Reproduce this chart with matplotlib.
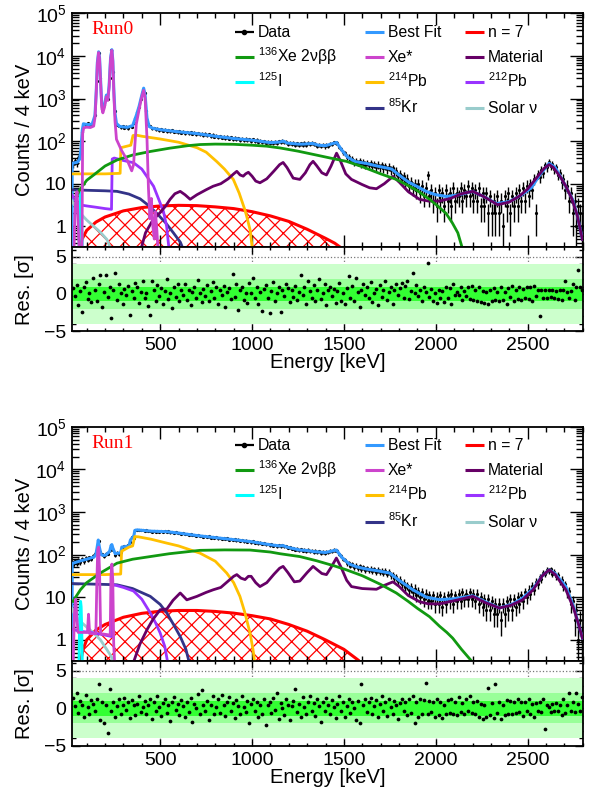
import numpy as np
import matplotlib
matplotlib.use("Agg")
import matplotlib.pyplot as plt
from matplotlib.ticker import FixedLocator, LogLocator, MultipleLocator, NullFormatter, FuncFormatter

plt.rcParams["font.family"] = ["Liberation Sans", "DejaVu Sans"]
plt.rcParams["mathtext.fontset"] = "custom"
plt.rcParams["mathtext.rm"] = "Liberation Sans"
plt.rcParams["hatch.color"] = "red"
plt.rcParams["hatch.linewidth"] = 0.9

# ---------------- Run0 ----------------
# counts per bin, bins every 10 keV starting at 25 keV
run0_data = [
    29, 34, 30, 41, 52, 160, 255, 238, 262, 236, 255, 290, 420, 2600, 11800, 3000, 560, 720, 1150, 980,
    3100, 13500, 4200, 500, 240, 230, 210, 228, 205, 220, 200, 225, 218, 270, 350, 470, 640, 980, 1500, 1380,
    520, 250, 225, 198, 205, 188, 196, 180, 190, 176, 185, 172, 181, 168, 178, 165, 172, 160, 170, 158,
    167, 155, 164, 152, 160, 150, 158, 146, 155, 144, 150, 139, 147, 136, 143, 131, 139, 127, 134, 124,
    131, 121, 128, 118, 125, 115, 122, 112, 119, 110, 117, 108, 114, 106, 113, 104, 110, 102, 109, 99,
    106, 97, 103, 94, 99, 91, 96, 89, 95, 90, 97, 91, 98, 94, 103, 95, 96, 86, 91, 84,
    89, 83, 88, 82, 88, 82, 89, 83, 90, 84, 91, 84, 87, 78, 83, 76, 81, 75, 82, 78,
    87, 84, 93, 89, 91, 73, 66, 54, 52, 42, 43, 36, 38, 32, 35, 31, 34, 29, 32, 28,
    31, 27, 30, 26, 29, 25, 28, 24, 27, 23, 26, 22, 25, 21, 23, 19, 20, 15, 17, 13,
    15, 11, 13, 9, 11, 8, 10, 7, 10, 6, 9, 5, 8, 16, 5, 7, 4, 6, 3, 7,
    4, 6, 3, 7, 4, 6, 3, 8, 4, 6, 5, 8, 4, 7, 5, 9, 5, 8, 4, 7,
    4, 8, 3, 6, 3, 6, 2, 5, 2, 4, 2, 5, 2, 4, 1, 5, 3, 6, 2, 5,
    3, 6, 3, 7, 4, 8, 4, 9, 5, 10, 7, 13, 2, 17, 14, 21, 18, 27, 24, 33,
    26, 29, 22, 24, 16, 18, 11, 13, 7, 9, 4, 6, 2, 4, 1, 3, 2, 1,
]
run0_res = [
    0.8, -0.3, 1.2, -1.5, 0.4, -2.4, 0.9, 1.6, -0.7, 0.2, -1.1, 2.1, 0.5, -0.9, 1.4, 2.6, -1.8, 0.3, 2.5, -0.4,
    1.0, -3.3, 0.6, 2.9, -0.8, 1.3, 0.1, -1.4, 0.7, -0.2, 1.1, -2.9, 0.4, -0.6, 1.5, 0.9, -1.2, 0.3, 1.8, -0.5,
    0.2, -1.6, -2.8, 1.7, 0.6, -0.9, 1.2, -0.3, 0.8, -1.3, 0.4, 2.0, -0.7, 0.1, -1.9, 0.9, -0.4, 1.3, -1.0, 0.5,
    -0.2, 1.4, -0.8, 0.6, -1.5, 0.3, 1.0, -0.6, 1.9, 0.2, -1.1, 0.7, -0.3, 1.2, -0.9, 0.4, 1.6, -0.5, 0.9, -1.3,
    0.6, -0.1, 1.1, -1.7, 0.3, 0.8, -0.7, 2.7, -0.4, 1.3, -2.1, 0.5, 1.0, -0.8, 0.2, -1.2, 1.5, 0.1, 2.1, -0.6,
    0.9, -1.4, 0.3, -2.3, 0.7, 1.2, -0.5, -2.5, 0.4, 1.6, -0.9, 0.2, 1.0, -2.4, 0.6, -0.3, 1.4, 0.8, -1.1, 0.5,
    -0.4, 1.1, -0.8, 0.3, 2.6, -0.2, 0.9, -1.3, 1.7, 0.4, -0.6, 1.2, -1.0, 0.5, 2.0, -0.7, 0.2, 1.3, -1.5, 0.6,
    1.0, -0.3, 0.7, -1.2, 0.4, 1.5, -0.9, 0.1, -1.4, 0.8, 2.4, -0.5, 1.1, -1.0, 2.1, 0.3, -1.8, 0.6, 1.4, -0.2,
    0.9, -0.6, 1.6, -1.1, 0.2, 0.7, -1.5, 1.2, -0.4, 0.5, 1.8, -0.8, 0.3, 1.0, -1.3, 0.6, 1.3, -0.2, 0.8, 1.5,
    -0.5, 1.1, 1.7, -0.7, 0.4, 2.9, 0.2, 1.2, -0.3, 0.6, -1.0, 0.9, 0.3, 4.2, -0.4, 0.7, -0.9, 0.2, -1.2, 0.5,
    -0.6, 0.4, -1.1, 1.0, -0.5, 0.8, -1.3, 1.3, -0.2, 0.3, -0.1, 1.0, -0.8, 0.4, -0.3, 1.0, -0.7, 1.1, -0.8, 0.6,
    -1.0, 0.9, -1.1, 0.4, -1.2, 0.3, -1.3, 0.6, -0.9, 0.8, -0.8, 0.3, -1.0, 0.9, -0.8, 0.3, -1.4, 0.8, -0.4, 1.1,
    -0.9, 0.6, -0.7, 0.9, -0.8, 0.7, -0.6, 0.9, -0.7, 1.0, -0.9, 1.1, -0.3, 0.6, -3.0, 0.5, -0.6, 0.6, -0.5, 0.6,
    -0.4, 0.6, -0.5, 0.4, -0.7, 0.5, -0.8, 0.6, 1.8, 0.3, -0.5, 0.4, 1.4, -0.8, 1.0, 3.3, 0.9, 0.5,
]
# model curves: (energy keV, counts / 4 keV)
run0_fit = [(20, 0.1), (21, 30), (50, 32), (62, 38), (68, 60), (76, 180), (82, 255), (90, 250), (110, 245),
            (130, 250), (145, 400), (152, 1500), (158, 7000), (165, 12500), (170, 9000), (176, 2500), (182, 700),
            (188, 560), (197, 720), (207, 1200), (215, 1000), (222, 2000), (230, 9000), (237, 14000), (242, 8000),
            (248, 1500), (254, 450), (262, 260), (280, 220), (320, 210), (350, 230), (370, 400), (385, 650),
            (400, 1200), (410, 1750), (418, 1200), (428, 350), (440, 220), (460, 200), (500, 185), (600, 165),
            (700, 150), (800, 130), (900, 115), (1000, 105), (1100, 92), (1150, 95), (1170, 100), (1190, 90),
            (1250, 85), (1280, 85), (1330, 88), (1360, 80), (1400, 78), (1430, 85), (1460, 93), (1490, 60),
            (1520, 42), (1560, 33), (1620, 30), (1680, 26), (1720, 24), (1760, 22), (1800, 16), (1850, 11),
            (1900, 8.5), (1950, 6.5), (2000, 5.5), (2060, 5.0), (2120, 5.4), (2200, 6.6), (2260, 5.0),
            (2330, 3.4), (2400, 3.8), (2460, 5.2), (2520, 8), (2570, 17), (2617, 30), (2650, 24), (2700, 10),
            (2744, 4.3), (2770, 1.8), (2798, 0.5)]
run0_n7 = [(60, 0.2), (65, 0.33), (75, 0.5), (100, 0.8), (150, 1.25), (200, 1.65), (300, 2.3), (400, 2.75),
           (500, 3.0), (600, 3.1), (700, 3.05), (800, 2.85), (900, 2.6), (1000, 2.2), (1100, 1.75), (1200, 1.3),
           (1300, 0.85), (1400, 0.52), (1450, 0.4), (1490, 0.3), (1510, 0.25)]
run0_xe136 = [(42, 4.5), (60, 7), (100, 12), (138, 16), (200, 26), (265, 36), (350, 47), (446, 57), (550, 68),
              (650, 78), (717, 83), (800, 85), (900, 84), (1000, 80), (1079, 76), (1152, 69), (1250, 58),
              (1350, 47), (1450, 38), (1513, 33.5), (1600, 25), (1700, 17), (1785, 12.6), (1850, 9.0),
              (1900, 6.8), (1966, 4.3), (2010, 3.0), (2056, 2.0), (2090, 1.2), (2120, 0.7), (2145, 0.3)]
run0_xestar = [(30, 0.2), (36, 2), (42, 5.5), (48, 6.5), (54, 1), (60, 0.2), (74, 0.2), (78, 150), (84, 205),
               (100, 212), (120, 208), (138, 225), (146, 380), (152, 1400), (158, 6500), (165, 12000),
               (170, 8500), (176, 2200), (182, 600), (188, 460), (197, 620), (207, 1100), (215, 900),
               (222, 1800), (230, 8500), (237, 13500), (242, 7500), (248, 1200), (254, 300), (262, 110),
               (290, 60), (320, 36), (345, 20), (355, 28), (370, 250), (385, 550), (400, 1100), (410, 1550),
               (418, 1000), (428, 120), (436, 8), (444, 1.5), (452, 4.5), (460, 1.0), (468, 0.5), (474, 2.2),
               (482, 0.8), (490, 0.2)]
run0_material = [(385, 0.2), (420, 0.7), (460, 1.4), (500, 2.1), (530, 3.0), (554, 4.3), (580, 5.8), (609, 6.6),
                 (635, 5.5), (663, 4.3), (700, 5.5), (750, 7.2), (788, 8.7), (830, 10), (870, 13), (900, 17),
                 (917, 19.5), (935, 16), (952, 15), (965, 17), (980, 18.5), (1000, 15), (1020, 11.5),
                 (1043, 10.5), (1080, 13), (1120, 20), (1150, 28), (1169, 31.5), (1190, 24), (1224, 13.5),
                 (1260, 12.6), (1290, 18), (1315, 28), (1332, 33.5), (1350, 27), (1380, 18), (1405, 16),
                 (1430, 26), (1460, 52), (1480, 35), (1510, 17), (1541, 12.6), (1600, 9.5), (1640, 8),
                 (1677, 7.6), (1720, 10), (1767, 14.8), (1800, 11), (1850, 6.5), (1911, 4.3), (1960, 3.9),
                 (2020, 3.9), (2080, 4.5), (2140, 5.8), (2201, 6.6), (2260, 5), (2337, 3.2), (2400, 3.7),
                 (2455, 5.1), (2500, 7.5), (2550, 14), (2590, 23), (2617, 28), (2640, 24), (2680, 14),
                 (2708, 8.7), (2740, 4.5), (2770, 1.8), (2798, 0.49)]
run0_i125 = [(56, 0.1), (61, 1.5), (64, 4.5), (67, 6.0), (70, 4.5), (73, 1.5), (78, 0.1)]
run0_pb214 = [(18, 17), (100, 17), (200, 17), (282, 17.5), (286, 70), (340, 80), (352, 135), (370, 138),
              (400, 130), (500, 112), (600, 94), (700, 70), (750, 55), (808, 33), (850, 22), (898, 12.6),
              (930, 6), (960, 2.5), (971, 1.7), (990, 0.8), (1006, 0.2)]
run0_pb212 = [(18, 5.5), (40, 4), (60, 3.2), (100, 3.0), (150, 2.8), (200, 2.6), (235, 2.5), (239, 38),
              (250, 40), (300, 35), (355, 31), (400, 22), (464, 8.7), (500, 3.5), (518, 2.2), (535, 1.0),
              (552, 0.2)]
run0_kr85 = [(18, 7.2), (100, 7.0), (200, 6.8), (265, 6.6), (330, 5.7), (391, 4.4), (440, 3.0), (482, 2.0),
             (530, 1.2), (572, 0.7), (610, 0.42), (640, 0.2)]
run0_solar = [(18, 4.0), (40, 2.8), (66, 2.0), (100, 1.4), (138, 1.0), (175, 0.72), (210, 0.49), (228, 0.32),
              (235, 0.2)]

# ---------------- Run1 ----------------
run1_data = [
    58, 70, 62, 75, 66, 79, 70, 82, 74, 86, 79, 92, 104, 126, 210, 115, 102, 91, 104, 106,
    126, 165, 130, 100, 112, 103, 115, 148, 160, 152, 165, 195, 255, 252, 380, 372, 386, 368, 382, 364,
    377, 356, 366, 348, 361, 344, 358, 343, 356, 340, 354, 338, 349, 331, 341, 323, 333, 315, 325, 307,
    317, 299, 309, 291, 300, 284, 292, 276, 285, 270, 279, 264, 273, 258, 267, 252, 261, 246, 255, 240,
    250, 236, 245, 231, 239, 226, 234, 221, 229, 216, 224, 211, 219, 206, 214, 201, 209, 196, 204, 190,
    197, 185, 191, 179, 185, 173, 179, 167, 174, 162, 169, 158, 166, 157, 168, 156, 158, 144, 149, 138,
    142, 131, 136, 126, 132, 124, 130, 122, 128, 119, 124, 115, 121, 113, 119, 111, 116, 109, 117, 113,
    123, 119, 129, 124, 124, 101, 95, 78, 75, 63, 64, 55, 59, 51, 55, 48, 53, 46, 50, 44,
    48, 43, 47, 41, 45, 40, 44, 39, 42, 37, 41, 36, 39, 33, 34, 28, 30, 24, 26, 20,
    22, 17, 19, 15, 17, 13, 16, 11, 14, 10, 13, 9, 12, 8, 11, 8, 11, 7, 10, 7,
    11, 6, 10, 7, 11, 8, 12, 7, 11, 8, 12, 8, 13, 9, 12, 9, 13, 9, 12, 8,
    12, 7, 10, 6, 9, 5, 9, 5, 8, 4, 7, 4, 7, 3, 7, 4, 8, 5, 9, 5,
    9, 6, 10, 7, 11, 8, 13, 10, 15, 12, 18, 15, 23, 20, 30, 27, 37, 35, 44, 41,
    45, 36, 40, 31, 34, 24, 26, 18, 20, 13, 14, 7, 8, 3, 5, 1, 3, 1,
]
run1_res = [
    1.4, 0.3, 2.1, -0.6, 1.0, 0.4, -1.2, 1.8, 0.2, -0.8, 1.1, 0.6, -0.4, 1.3, 3.3, -1.5, 0.8, -2.0, 0.5, -3.3,
    2.6, -0.4, 0.9, -1.1, 0.3, 1.2, -0.7, 0.5, 1.4, -0.2, 0.8, -1.3, 1.1, 0.4, -0.9, 0.6, 1.7, -0.5, 0.2, 1.0,
    -0.8, 0.5, 1.3, -1.4, 0.9, -0.3, 1.6, 0.2, -1.0, 0.7, 1.2, -0.6, 0.4, -1.7, 0.8, 1.5, -0.2, 0.6, -0.9, 1.1,
    0.3, -1.2, 0.9, -0.5, 1.4, -1.8, 0.6, 0.1, 1.9, -0.7, 2.4, 0.4, -0.3, 1.0, -1.5, 0.5, 1.7, -0.8, 0.2, 1.3,
    -0.6, 1.8, 0.4, -1.0, 0.9, 1.5, -0.4, 0.7, -1.3, 1.1, 0.3, -0.8, 1.6, 0.2, -0.5, 1.0, -1.9, 0.6, 1.2, -0.3,
    0.8, -1.1, 0.5, -0.7, 1.3, -2.2, 0.4, 0.9, -0.6, 1.4, -0.2, 2.0, -1.4, 0.7, 0.1, -0.9, 1.2, 0.5, -1.6, 0.3,
    1.0, 2.6, -0.5, 0.6, -1.2, 1.5, 0.2, -0.8, 0.9, 1.6, -0.4, 0.7, -1.0, 1.2, 0.3, -1.8, 0.8, -0.3, 1.4, 0.5,
    -0.7, 1.1, 0.2, -1.3, 0.6, 1.7, -0.4, 0.9, -1.1, 0.3, 1.3, -0.6, 0.8, 0.1, -1.5, 1.0, -2.0, 3.2, 0.4, 1.2,
    -0.5, 0.9, 1.4, -0.8, 0.3, 1.1, -1.2, 0.6, 1.6, -0.3, 0.8, -1.0, 1.3, 0.2, -0.7, 1.0, 0.5, -1.4, 0.7, 1.2,
    -0.4, 0.9, -0.9, 1.3, -0.6, 1.6, -2.0, 0.8, -1.2, 1.2, -0.7, 1.1, 3.4, -0.8, 1.0, -0.5, 0.8, -1.1, 1.2, -0.9,
    0.9, -1.3, 0.5, -0.8, 1.1, -0.6, 1.3, -0.7, 0.8, -0.9, 1.5, -0.5, 0.7, -0.8, 1.2, -0.4, 1.6, -0.6, 0.9, -0.7,
    1.0, -1.2, 0.6, -1.4, 0.5, -1.1, 2.7, -0.9, 0.7, -1.3, 3.2, -0.6, 0.9, -1.4, 0.4, -0.9, 1.1, -0.7, 1.0, -0.8,
    0.9, -0.6, 1.2, -0.5, 0.8, -1.0, 0.9, -0.3, 1.2, -0.8, 0.6, -1.1, 0.7, -0.4, 0.8, -0.5, 1.3, -2.7, 0.4, 0.2,
    -0.5, 0.6, -0.3, 0.7, -0.4, 0.5, -0.9, 1.3, -0.6, 0.4, 2.0, -0.3, 0.8, -0.5, 2.1, 0.6, -0.4, 1.5,
]
run1_fit = [(20, 0.1), (21, 62), (60, 70), (100, 78), (140, 88), (150, 100), (157, 150), (163, 220), (169, 150),
            (178, 100), (195, 95), (207, 100), (225, 120), (233, 165), (237, 172), (243, 140), (255, 105),
            (285, 110), (291, 150), (330, 160), (338, 220), (350, 255), (356, 265), (362, 370), (375, 380),
            (450, 355), (536, 345), (600, 320), (700, 280), (800, 250), (898, 225), (1000, 200), (1100, 170),
            (1150, 160), (1169, 163), (1190, 150), (1260, 128), (1300, 125), (1333, 118), (1400, 112),
            (1430, 120), (1459, 128), (1490, 85), (1530, 60), (1568, 52), (1620, 46), (1680, 42), (1749, 37),
            (1800, 25), (1875, 15), (1950, 10), (2020, 8.8), (2100, 9.2), (2201, 10.8), (2280, 7.5),
            (2346, 5.6), (2420, 7), (2472, 9.5), (2530, 16), (2580, 32), (2617, 44), (2650, 36), (2708, 17.8),
            (2750, 6), (2775, 2.5), (2798, 1.1)]
run1_n7 = [(62, 0.2), (68, 0.33), (80, 0.6), (100, 1.0), (150, 1.7), (200, 2.3), (300, 3.4), (400, 4.2),
           (500, 4.7), (600, 4.9), (700, 4.9), (800, 4.65), (900, 4.25), (1000, 3.7), (1100, 3.1), (1200, 2.3),
           (1300, 1.6), (1400, 1.0), (1500, 0.6), (1580, 0.33), (1600, 0.25)]
run1_xe136 = [(25, 8), (66, 15), (100, 22), (174, 37), (265, 63), (350, 78), (446, 90), (550, 105), (717, 126),
              (850, 129), (989, 128), (1100, 115), (1152, 105), (1260, 90), (1350, 72), (1450, 54), (1513, 44),
              (1600, 32), (1700, 20), (1785, 12.6), (1850, 8.0), (1900, 5.5), (1966, 3.5), (2020, 2.1),
              (2060, 1.5), (2092, 1.1), (2140, 0.6), (2192, 0.33), (2210, 0.25)]
run1_xestar = [(26, 0.2), (33, 4), (40, 9), (47, 3), (53, 1.5), (90, 1.5), (104, 1.5), (110, 4), (116, 1.4),
               (150, 1.4), (155, 20), (160, 130), (165, 150), (170, 40), (176, 1.4), (228, 1.3), (232, 30),
               (237, 60), (242, 25), (247, 0.8), (254, 0.2)]
run1_material = [(340, 0.2), (390, 0.8), (428, 1.73), (460, 3.0), (500, 5.1), (536, 5.3), (570, 8.5),
                 (609, 12.6), (645, 8.7), (700, 10.5), (750, 13), (789, 15), (830, 17), (870, 24), (900, 31),
                 (917, 34), (940, 28), (962, 26), (980, 31), (995, 31), (1020, 22), (1043, 17.8), (1080, 22),
                 (1120, 35), (1150, 48), (1169, 53), (1195, 38), (1230, 23), (1260, 24), (1300, 38), (1332, 53),
                 (1355, 44), (1380, 36), (1405, 34), (1430, 50), (1459, 83), (1485, 50), (1515, 25),
                 (1541, 17.8), (1600, 16), (1677, 15.4), (1720, 19), (1767, 23), (1800, 18), (1850, 11),
                 (1911, 7.9), (1960, 7.0), (2020, 7.0), (2100, 8.3), (2201, 10.5), (2270, 7.5), (2346, 5.6),
                 (2410, 6.5), (2472, 8.7), (2530, 15), (2580, 32), (2617, 44), (2650, 34), (2708, 15),
                 (2750, 5.5), (2775, 2.5), (2798, 1.1)]
run1_i125 = [(56, 0.1), (61, 2), (64, 6), (67, 8), (70, 6), (73, 2), (78, 0.1)]
run1_pb214 = [(18, 34), (100, 34), (200, 34), (285, 35), (290, 120), (330, 150), (350, 160), (362, 265),
              (380, 262), (450, 230), (536, 186), (600, 160), (717, 108), (800, 70), (862, 37), (900, 22),
              (934, 10.5), (960, 4.5), (989, 1.45), (1005, 0.6), (1020, 0.2)]
run1_pb212 = [(18, 1.8), (60, 1.6), (120, 1.5), (180, 1.35), (236, 1.2), (239, 19.5), (260, 19), (300, 17),
              (355, 14), (400, 9), (446, 4.3), (475, 2.5), (500, 1.45), (525, 0.7), (548, 0.2)]
run1_kr85 = [(18, 21), (100, 20.5), (200, 20), (265, 19.6), (350, 16), (446, 10.5), (500, 6.8), (536, 4.3),
             (575, 2.2), (609, 1.2), (640, 0.6), (668, 0.2)]
run1_solar = [(18, 5.5), (40, 3.6), (66, 2.7), (100, 2.0), (138, 1.45), (175, 1.0), (210, 0.59), (235, 0.4),
              (250, 0.2)]

# colours
C_FIT = "#3399ff"
C_N7 = "#ff0000"
C_XE136 = "#119911"
C_XESTAR = "#cc44cc"
C_MAT = "#660066"
C_I125 = "#00ffff"
C_PB214 = "#ffc000"
C_PB212 = "#9933ff"
C_KR85 = "#333388"
C_SOLAR = "#99cccc"

YMIN, YMAX = 0.32, 1e5
XMIN, XMAX = 20, 2800


def log_label(v, pos):
    if v < 0.99:
        return ""
    n = int(round(np.log10(v)))
    if n == 0:
        return "1"
    if n == 1:
        return "10"
    return r"$\mathregular{10^{%d}}$" % n


def style_main(ax):
    ax.set_xlim(XMIN, XMAX)
    ax.set_yscale("log")
    ax.set_ylim(YMIN, YMAX)
    ax.yaxis.set_major_locator(FixedLocator([1, 10, 100, 1e3, 1e4, 1e5]))
    ax.yaxis.set_major_formatter(FuncFormatter(log_label))
    ax.yaxis.set_minor_locator(LogLocator(base=10, subs=np.arange(2, 10), numticks=20))
    ax.yaxis.set_minor_formatter(NullFormatter())
    ax.xaxis.set_major_locator(MultipleLocator(500))
    ax.xaxis.set_minor_locator(MultipleLocator(100))
    ax.tick_params(which="both", direction="in", top=True, right=True, labelbottom=False)
    ax.tick_params(axis="x", which="major", length=8.5, width=1)
    ax.tick_params(axis="x", which="minor", length=3.6, width=1)
    ax.tick_params(axis="y", which="major", length=9.5, width=1, labelsize=14, pad=4)
    ax.tick_params(axis="y", which="minor", length=4.7, width=1)
    for s in ax.spines.values():
        s.set_linewidth(1.3)
    ax.set_ylabel("Counts / 4 keV", fontsize=14.5)
    ax.yaxis.set_label_coords(-0.074, 0.5)


def style_res(ax):
    ax.set_xlim(XMIN, XMAX)
    ax.set_ylim(-5, 6.3)
    ax.yaxis.set_major_locator(FixedLocator([-5, 0, 5]))
    ax.yaxis.set_minor_locator(MultipleLocator(1))
    ax.xaxis.set_major_locator(MultipleLocator(500))
    ax.xaxis.set_minor_locator(MultipleLocator(100))
    ax.xaxis.set_major_formatter(FuncFormatter(lambda v, p: "%d" % v if v >= 500 else ""))
    ax.tick_params(which="both", direction="in", top=True, right=True)
    ax.tick_params(axis="x", which="major", length=5, width=1, labelsize=14, pad=4)
    ax.tick_params(axis="x", which="minor", length=2.5, width=1)
    ax.tick_params(axis="y", which="major", length=6, width=1, labelsize=14, pad=4)
    ax.tick_params(axis="y", which="minor", length=3, width=1)
    for s in ax.spines.values():
        s.set_linewidth(1.3)
    ax.set_axisbelow(True)
    ax.grid(axis="x", which="major", ls=":", color="#777777", lw=0.9)
    ax.axhspan(-4, 4, color="#ccffcc", lw=0, zorder=1)
    ax.axhspan(-2, 2, color="#99ff99", lw=0, zorder=1.1)
    ax.axhspan(-1, 1, color="#33ff33", lw=0, zorder=1.2)
    ax.axhline(5, ls=":", color="#777777", lw=0.9, zorder=1.3)
    ax.set_ylabel("Res. [\u03c3]", fontsize=14.5)
    ax.yaxis.set_label_coords(-0.074, 0.5)
    ax.set_xlabel("Energy [keV]", fontsize=14.5)
    ax.xaxis.set_label_coords(0.5, -0.265)


leg_cols = [0.319, 0.573, 0.769]
leg_rows = [0.921, 0.815, 0.708, 0.595]
leg_entries = [
    (0, 0, "Data", "black", "data"),
    (0, 1, r"$\mathregular{^{136}}$Xe 2\u03bd\u03b2\u03b2", C_XE136, "line"),
    (0, 2, r"$\mathregular{^{125}}$I", C_I125, "line"),
    (1, 0, "Best Fit", C_FIT, "line"),
    (1, 1, "Xe*", C_XESTAR, "line"),
    (1, 2, r"$\mathregular{^{214}}$Pb", C_PB214, "line"),
    (1, 3, r"$\mathregular{^{85}}$Kr", C_KR85, "line"),
    (2, 0, "n = 7", C_N7, "line"),
    (2, 1, "Material", C_MAT, "line"),
    (2, 2, r"$\mathregular{^{212}}$Pb", C_PB212, "line"),
    (2, 3, "Solar \u03bd", C_SOLAR, "line"),
]


def draw_legend(ax):
    for col, row, label, color, kind in leg_entries:
        x0, y0 = leg_cols[col], leg_rows[row]
        lw = 1.6 if kind == "data" else 2.2
        ax.plot([x0, x0 + 0.037], [y0, y0], transform=ax.transAxes, color=color, lw=lw,
                solid_capstyle="butt", clip_on=False, zorder=6)
        if kind == "data":
            ax.plot([x0 + 0.0185], [y0], "o", color="black", ms=3, transform=ax.transAxes, zorder=6)
        ax.text(x0 + 0.045, y0 - 0.022, label.replace("\\u03bd", "\u03bd").replace("\\u03b2", "\u03b2"),
                transform=ax.transAxes, fontsize=11.3, va="baseline", ha="left", zorder=6)


def curve(pts):
    a = np.array(pts, dtype=float)
    return a[:, 0], a[:, 1]


def draw_run(ax, axr, name, data, res, fit, n7, comps):
    e = 25 + 10 * np.arange(len(data))
    d = np.array(data, dtype=float)
    ne, nv = curve(n7)
    ax.fill_between(ne, 1e-3, nv, facecolor="none", edgecolor=C_N7, hatch="xx", linewidth=0, zorder=1)
    ax.errorbar(e, d, yerr=np.sqrt(d), fmt="o", color="black", ms=2.3, mew=0, elinewidth=1.0,
                capsize=0, zorder=2)
    fe, fv = curve(fit)
    ax.plot(fe, fv, color=C_FIT, lw=2.2, zorder=3)
    ax.plot(ne, nv, color=C_N7, lw=2.2, zorder=4)
    for pts, color in comps:
        ce, cv = curve(pts)
        ax.plot(ce, cv, color=color, lw=2.0, zorder=4)
    style_main(ax)
    draw_legend(ax)
    ax.text(0.0386, 0.929, name, transform=ax.transAxes, color="red", fontsize=14,
            family="Liberation Serif", va="center", ha="left")

    er = 25 + 10 * np.arange(len(res))
    axr.plot(er, res, "o", color="black", ms=2.7, mew=0, zorder=3)
    style_res(axr)


fig = plt.figure(figsize=(5.96, 7.94), dpi=100)
L, W = 0.1208, 0.857
ax0 = fig.add_axes([L, 0.6885, W, 0.2947])
ax0r = fig.add_axes([L, 0.5831, W, 0.1054])
ax1 = fig.add_axes([L, 0.1675, W, 0.2951])
ax1r = fig.add_axes([L, 0.0605, W, 0.1070])

draw_run(ax0, ax0r, "Run0", run0_data, run0_res, run0_fit, run0_n7,
         [(run0_solar, C_SOLAR), (run0_kr85, C_KR85), (run0_pb212, C_PB212), (run0_pb214, C_PB214),
          (run0_i125, C_I125), (run0_material, C_MAT), (run0_xe136, C_XE136), (run0_xestar, C_XESTAR)])
draw_run(ax1, ax1r, "Run1", run1_data, run1_res, run1_fit, run1_n7,
         [(run1_solar, C_SOLAR), (run1_kr85, C_KR85), (run1_pb212, C_PB212), (run1_pb214, C_PB214),
          (run1_i125, C_I125), (run1_material, C_MAT), (run1_xe136, C_XE136), (run1_xestar, C_XESTAR)])

fig.savefig("out.png", dpi=100)
